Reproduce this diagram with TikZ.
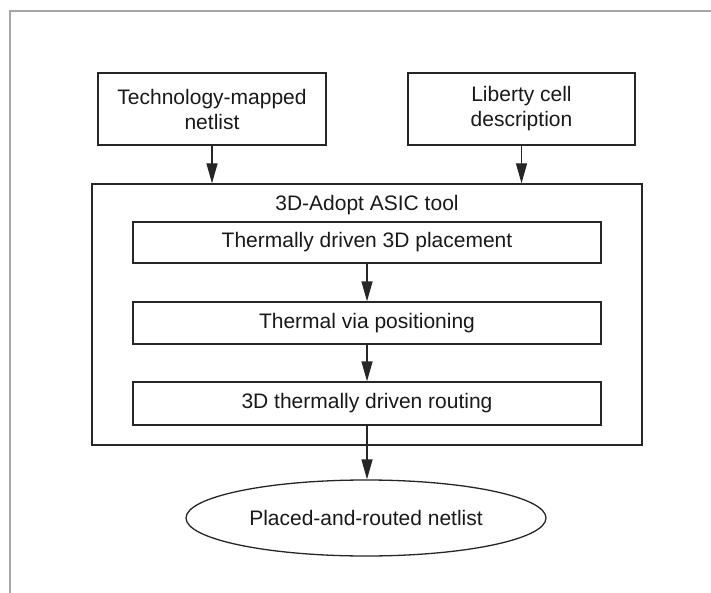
\documentclass[tikz,border=0pt]{standalone}
\usepackage{fontspec}
\setmainfont{Liberation Sans}
\usetikzlibrary{arrows.meta,shapes.geometric}
\begin{document}
\begin{tikzpicture}[x=1pt,y=-1pt,
  every node/.style={font=\fontsize{21}{25}\selectfont, text=black!90},
  boxstyle/.style={draw=black!85, line width=1.3pt, inner sep=0pt, align=center},
  arr/.style={draw=black!85, line width=1.3pt, -{Triangle[length=20pt,width=11pt]}},
  frameline/.style={draw=black!35, line width=1.5pt}]
\useasboundingbox (0,0) rectangle (711,593);
\draw[frameline] (711,11) -- (10,11) -- (10,593);
\node[boxstyle, minimum width=228pt, minimum height=72pt] (tech) at (212,109) {Technology-mapped\\netlist};
\node[boxstyle, minimum width=227pt, minimum height=72pt] (lib) at (521.5,109) {Liberty cell\\description};
\node[boxstyle, minimum width=550pt, minimum height=261pt] (outer) at (367,314.5) {};
\node (title) at (367,205) {3D-Adopt ASIC tool};
\node[boxstyle, minimum width=468pt, minimum height=41pt] (place) at (367,242.5) {Thermally driven 3D placement};
\node[boxstyle, minimum width=468pt, minimum height=42pt] (via) at (367,323) {Thermal via positioning};
\node[boxstyle, minimum width=468pt, minimum height=43pt] (route) at (367,403.5) {3D thermally driven routing};
\node[boxstyle, ellipse, minimum width=360pt, minimum height=76pt] (out) at (366,518) {Placed-and-routed netlist};
\draw[arr] (tech.south) -- (tech.south |- outer.north);
\draw[arr] (lib.south) -- (lib.south |- outer.north);
\draw[arr] (place.south) -- (via.north);
\draw[arr] (via.south) -- (route.north);
\draw[arr] (route.south) -- (route.south |- out.north);
\end{tikzpicture}
\end{document}
